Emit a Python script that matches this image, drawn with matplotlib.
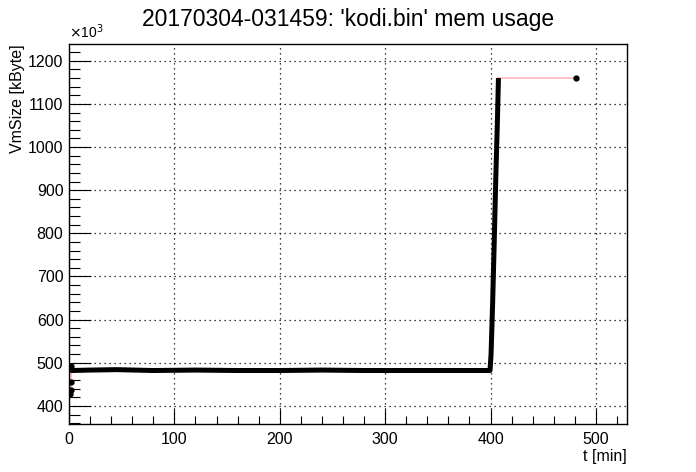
import matplotlib
matplotlib.use("Agg")
import matplotlib.pyplot as plt
from matplotlib.ticker import MultipleLocator

plt.rcParams['font.family'] = ['Liberation Sans', 'DejaVu Sans']

# samples: time [min], VmSize [x10^3 kByte]
t_min = [0.5, 1.5, 1.8, 2.0, 2.5, 20, 45, 80, 120, 160, 200, 240, 280,
         320, 360, 399.5, 400.5, 402, 403.5, 405, 406.5, 407.5]
vmsize = [428, 456, 437, 492, 482, 483, 484, 482, 483, 482, 482, 483, 482,
          482, 482, 482, 520, 640, 780, 930, 1060, 1160]

# last sample, far from the others
t_last = [407.5, 481.0]
vm_last = [1160, 1160]

fig = plt.figure(figsize=(6.96, 4.72), dpi=100)
ax = fig.add_axes([0.0991, 0.1017, 0.8018, 0.8051])

ax.plot(t_min, vmsize, color='#ffb8b8', lw=1.2, zorder=2)
ax.plot(t_last, vm_last, color='#ffb8b8', lw=1.2, zorder=2)
ax.plot(t_min[3:], vmsize[3:], color='black', lw=3.6, solid_capstyle='butt', zorder=3)
ax.plot(t_min[:4], vmsize[:4], 'o', color='black', ms=3.5, zorder=4)
ax.plot(t_last[1:], vm_last[1:], 'o', color='black', ms=3.5, zorder=4)

ax.set_xlim(0, 529.5)
ax.set_ylim(358, 1239)

ax.xaxis.set_major_locator(MultipleLocator(100))
ax.xaxis.set_minor_locator(MultipleLocator(20))
ax.yaxis.set_major_locator(MultipleLocator(100))
ax.yaxis.set_minor_locator(MultipleLocator(20))
ax.tick_params(which='both', direction='in', top=False, right=False,
               labelsize=11.5, width=0.8)
ax.tick_params(axis='x', which='major', length=11, pad=6)
ax.tick_params(axis='x', which='minor', length=6)
ax.tick_params(axis='y', which='major', length=16, pad=4)
ax.tick_params(axis='y', which='minor', length=8)
ax.grid(True, which='major', color='black', linestyle=(0, (1, 3)), lw=0.9)
for s in ax.spines.values():
    s.set_linewidth(1)

ax.set_title("20170304-031459: 'kodi.bin' mem usage", fontsize=16.5, pad=13)
ax.set_ylabel('VmSize [kByte]', fontsize=11.5, loc='top', labelpad=2)
ax.set_xlabel('t [min]', fontsize=11.5, loc='right', labelpad=1)
ax.text(0, 1.008, r'$\times$10$^3$', transform=ax.transAxes, fontsize=10,
        ha='left', va='bottom')

fig.savefig('out.png', dpi=100)
